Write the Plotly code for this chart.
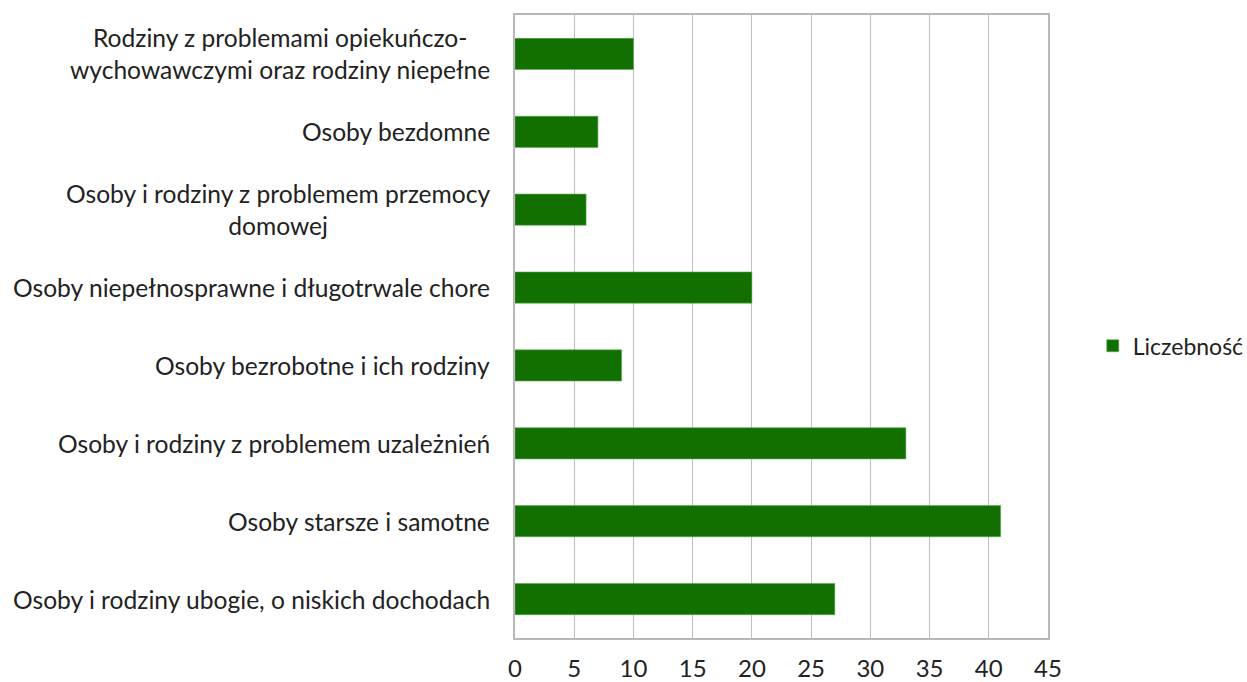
import plotly.graph_objects as go

categories = [
    "Rodziny z problemami opiekuńczo-<br>wychowawczymi oraz rodziny niepełne",
    "Osoby bezdomne",
    "Osoby i rodziny z problemem przemocy<br>domowej",
    "Osoby niepełnosprawne i długotrwale chore",
    "Osoby bezrobotne i ich rodziny",
    "Osoby i rodziny z problemem uzależnień",
    "Osoby starsze i samotne",
    "Osoby i rodziny ubogie, o niskich dochodach",
]
values = [10, 7, 6, 20, 9, 33, 41, 27]
x_ticks = [0, 5, 10, 15, 20, 25, 30, 35, 40, 45]
series_name = "Liczebność"

FONT = "Lato"
FS = 24
GREEN = "#117000"
TXT = "#222222"

fig = go.Figure()
fig.add_trace(go.Bar(
    y=categories, x=values, orientation="h", name=series_name,
    marker=dict(color=GREEN, line=dict(color="#5aa850", width=0.6)),
    width=0.4, showlegend=True,
))

annotations = []
for c in categories:
    annotations.append(dict(
        xref="paper", yref="y", x=0, y=c, xanchor="right", yanchor="middle",
        xshift=-23, text=c, showarrow=False, align="center",
        font=dict(family=FONT, size=24.6, color=TXT),
    ))

fig.update_layout(
    width=1247, height=682,
    margin=dict(l=515, r=199, t=15, b=44, autoexpand=False),
    paper_bgcolor="white", plot_bgcolor="white",
    font=dict(family=FONT, size=FS, color=TXT),
    xaxis=dict(
        range=[0, 45], tickvals=x_ticks, showgrid=True, gridcolor="#c0c0c0",
        gridwidth=1.2, zeroline=False, showline=True, linecolor="#b8b8b8",
        linewidth=2, mirror=True, ticks="", ticklabelstandoff=8,
        tickfont=dict(family=FONT, size=FS, color=TXT),
    ),
    yaxis=dict(
        categoryorder="array", categoryarray=categories, autorange="reversed",
        showticklabels=False, showgrid=False, zeroline=False, showline=True,
        linecolor="#b8b8b8", linewidth=2, mirror=True, ticks="",
    ),
    legend=dict(
        x=1.084, xanchor="left", y=0.469, yanchor="middle",
        font=dict(family=FONT, size=23, color=TXT),
        itemwidth=30,
    ),
    annotations=annotations,
    bargap=0.6,
)

fig.write_html(
    "out.html",
    config={"displayModeBar": False},
    post_script="document.body.style.margin='0';document.body.style.overflow='hidden';",
)
